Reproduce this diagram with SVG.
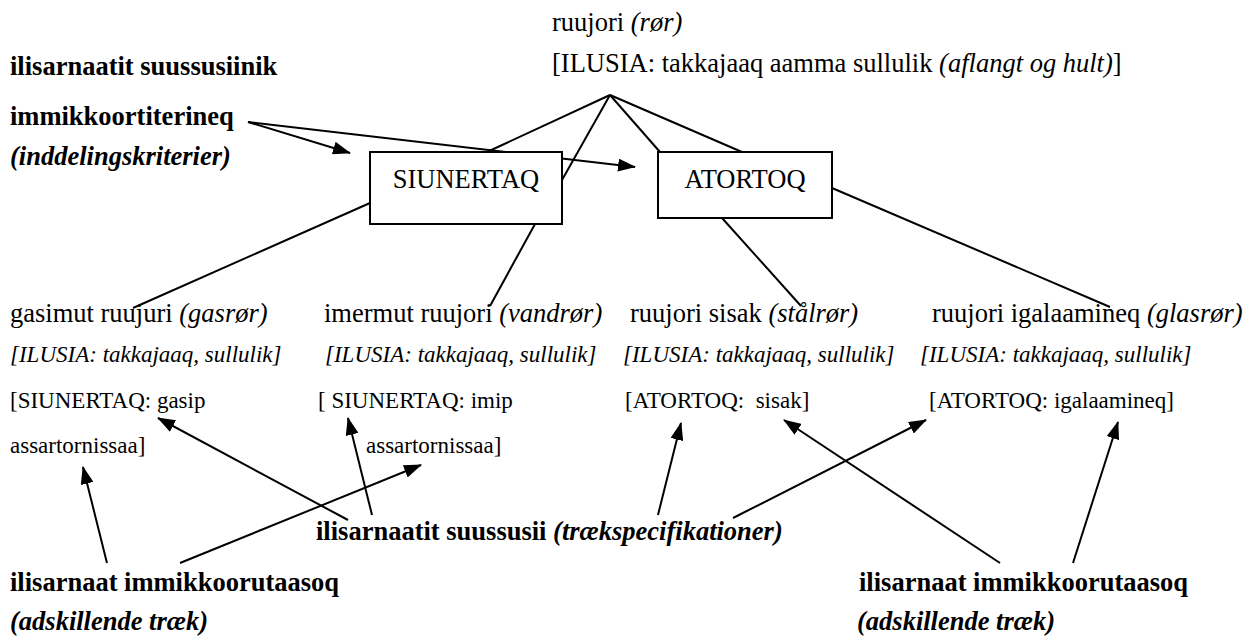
<svg xmlns="http://www.w3.org/2000/svg" width="1254" height="639" viewBox="0 0 1254 639">
<defs>
<style>
text{font-family:"Liberation Serif","Times New Roman",serif;fill:#000;white-space:pre}
.t{font-size:26.5px}
.s{font-size:23px}
.b{font-weight:bold}
.i{font-style:italic}
.box{fill:#fff;stroke:#000;stroke-width:2}
.ln{stroke:#000;stroke-width:2;fill:none}
.ar{stroke:#000;stroke-width:2;fill:none;marker-end:url(#ah)}
</style>
<marker id="ah" viewBox="0 0 18 13" refX="17" refY="6.5" markerWidth="18" markerHeight="13" orient="auto" markerUnits="userSpaceOnUse">
<path d="M0,0 L18,6.5 L0,13 z" fill="#000"/>
</marker>
</defs>
<rect width="1254" height="639" fill="#fff"/>
<g id="connectors">
<line class="ln" x1="610" y1="95" x2="487" y2="152"/>
<line class="ln" x1="610" y1="95" x2="562" y2="180"/>
<line class="ln" x1="610" y1="95" x2="660" y2="152"/>
<line class="ln" x1="610" y1="95" x2="742" y2="152"/>
<line class="ln" x1="370" y1="203" x2="133" y2="308"/>
<line class="ln" x1="535" y1="224" x2="490" y2="306"/>
<line class="ln" x1="722" y1="218" x2="801" y2="306"/>
<line class="ln" x1="832" y1="188" x2="1110" y2="307"/>
<line class="ar" x1="248" y1="122" x2="350" y2="153"/>
<line class="ar" x1="248" y1="122" x2="635" y2="167"/>
<line class="ar" x1="107" y1="563" x2="83" y2="467"/>
<line class="ar" x1="180" y1="563" x2="421" y2="465"/>
<line class="ar" x1="348" y1="520" x2="158" y2="418"/>
<line class="ar" x1="372" y1="515" x2="348" y2="418"/>
<line class="ar" x1="658" y1="515" x2="681" y2="423"/>
<line class="ar" x1="733" y1="518" x2="926" y2="420"/>
<line class="ar" x1="1000" y1="563" x2="784" y2="420"/>
<line class="ar" x1="1073" y1="563" x2="1118" y2="422"/>
</g>
<g id="root">
<text class="t" x="552" y="31">ruujori <tspan class="i">(rør)</tspan></text>
<text class="t" x="552" y="72">[ILUSIA: takkajaaq aamma sullulik <tspan class="i">(aflangt og hult)</tspan>]</text>
</g>
<g id="criteria-label">
<text class="t b" x="10" y="75">ilisarnaatit suussusiinik</text>
<text class="t b" x="10" y="125">immikkoortiterineq</text>
<text class="t b i" x="10" y="165">(inddelingskriterier)</text>
</g>
<g id="siunertaq">
<rect class="box" x="370" y="152" width="192" height="72"/>
<text class="t" x="466" y="188" text-anchor="middle">SIUNERTAQ</text>
</g>
<g id="atortoq">
<rect class="box" x="658" y="152" width="174" height="66"/>
<text class="t" x="745" y="188" text-anchor="middle">ATORTOQ</text>
</g>
<g id="gasimut">
<text class="t" x="10" y="322">gasimut ruujuri <tspan class="i">(gasrør)</tspan></text>
<text class="s i" x="10" y="362">[ILUSIA: takkajaaq, sullulik]</text>
<text class="s" x="10" y="408">[SIUNERTAQ: gasip</text>
<text class="s" x="10" y="453">assartornissaa]</text>
</g>
<g id="imermut">
<text class="t" x="324" y="322">imermut ruujori <tspan class="i">(vandrør)</tspan></text>
<text class="s i" x="325" y="362">[ILUSIA: takkajaaq, sullulik]</text>
<text class="s" x="318" y="408">[ SIUNERTAQ: imip</text>
<text class="s" x="366" y="453">assartornissaa]</text>
</g>
<g id="sisak">
<text class="t" x="630" y="322">ruujori sisak <tspan class="i">(stålrør)</tspan></text>
<text class="s i" x="623" y="362">[ILUSIA: takkajaaq, sullulik]</text>
<text class="s" x="625" y="408">[ATORTOQ:  sisak]</text>
</g>
<g id="igalaamineq">
<text class="t" x="932" y="322">ruujori igalaamineq <tspan class="i">(glasrør)</tspan></text>
<text class="s i" x="920" y="362">[ILUSIA: takkajaaq, sullulik]</text>
<text class="s" x="929" y="408">[ATORTOQ: igalaamineq]</text>
</g>
<g id="trait-specs">
<text class="t b" x="316" y="540">ilisarnaatit suussusii <tspan class="i">(trækspecifikationer)</tspan></text>
</g>
<g id="distinctive-left">
<text class="t b" x="10" y="591">ilisarnaat immikkoorutaasoq</text>
<text class="t b i" x="10" y="630">(adskillende træk)</text>
</g>
<g id="distinctive-right">
<text class="t b" x="859" y="591">ilisarnaat immikkoorutaasoq</text>
<text class="t b i" x="857" y="630">(adskillende træk)</text>
</g>
</svg>
